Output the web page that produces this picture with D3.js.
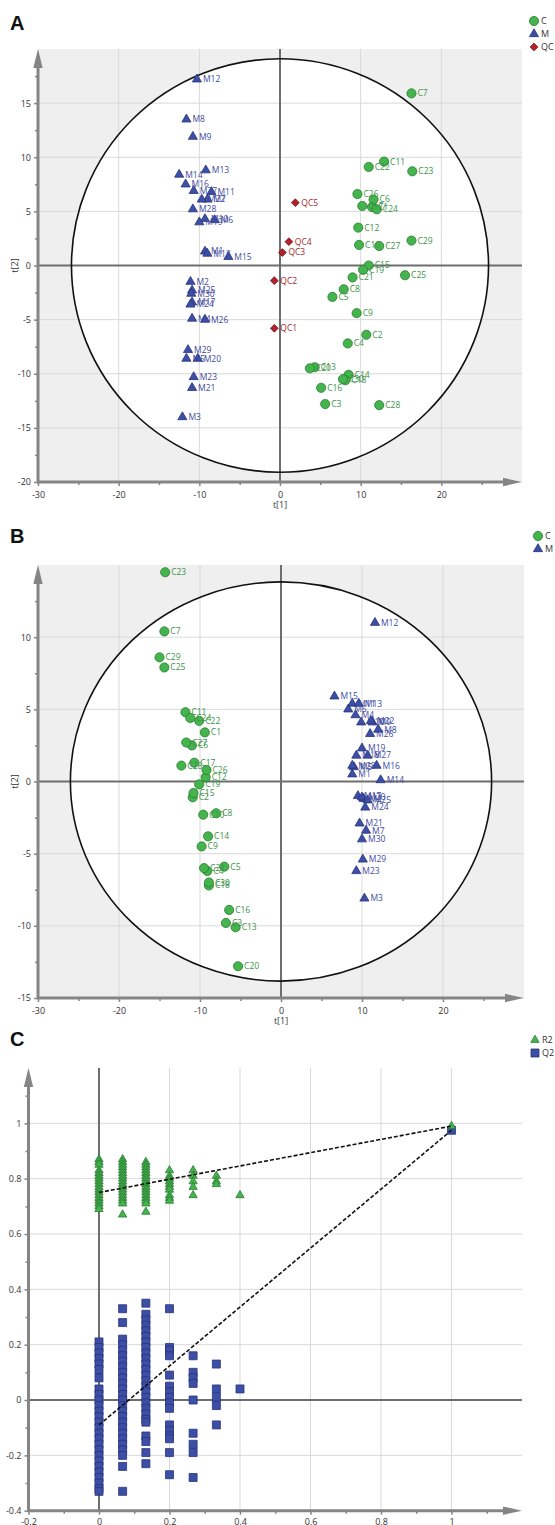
<!DOCTYPE html>
<html>
<head>
<meta charset="utf-8">
<script src="https://cdn.jsdelivr.net/npm/d3@7"></script>
<style>
  body { margin: 0; background: #fff; }
  svg { display: block; }
</style>
</head>
<body>
<div id="chart"></div>
<script>
// ---- panel A scores: [label, t1, t2]
const scoreA_C = [
  ["C1", 11.4, 5.4], ["C2", 10.7, -6.4], ["C3", 5.6, -12.8], ["C4", 8.4, -7.2], ["C5", 6.5, -2.9],
  ["C6", 11.6, 6.1], ["C7", 16.3, 15.9], ["C8", 7.9, -2.2], ["C9", 9.5, -4.4], ["C10", 9.8, 1.9],
  ["C11", 12.9, 9.6], ["C12", 9.7, 3.5], ["C13", 4.3, -9.4], ["C14", 8.5, -10.1], ["C15", 11.0, 0.0],
  ["C16", 5.1, -11.3], ["C17", 10.2, 5.5], ["C18", 8.1, -10.6], ["C19", 10.3, -0.4], ["C20", 3.7, -9.5],
  ["C21", 9.0, -1.1], ["C22", 11.0, 9.1], ["C23", 16.4, 8.7], ["C24", 12.0, 5.2], ["C25", 15.5, -0.9],
  ["C26", 9.6, 6.6], ["C27", 12.3, 1.8], ["C28", 12.3, -12.9], ["C29", 16.3, 2.3], ["C30", 7.8, -10.5]
];
const scoreA_M = [
  ["M1", -9.3, 1.3], ["M2", -11.1, -1.5], ["M3", -12.1, -14.0], ["M4", -10.9, -4.9], ["M5", -11.6, -8.6],
  ["M6", -8.1, 4.2], ["M7", -9.0, 6.1], ["M8", -11.6, 13.5], ["M9", -10.8, 11.9], ["M10", -9.3, 4.3],
  ["M11", -8.5, 6.8], ["M12", -10.3, 17.2], ["M13", -9.2, 8.8], ["M14", -12.5, 8.4], ["M15", -6.4, 0.8],
  ["M16", -11.7, 7.5], ["M17", -10.9, -3.4], ["M18", -9.0, 1.1], ["M19", -10.0, 4.0], ["M20", -10.2, -8.6],
  ["M21", -10.9, -11.3], ["M22", -9.7, 6.1], ["M23", -10.7, -10.3], ["M24", -11.1, -3.6], ["M25", -10.9, -2.3],
  ["M26", -9.3, -5.0], ["M27", -10.7, 6.9], ["M28", -10.8, 5.2], ["M29", -11.4, -7.8], ["M30", -11.0, -2.6]
];
const scoreA_QC = [
  ["QC1", -0.7, -5.8], ["QC2", -0.7, -1.4], ["QC3", 0.3, 1.2], ["QC4", 1.1, 2.2], ["QC5", 1.9, 5.8]
];

// ---- panel B scores
const scoreB_C = [
  ["C1", -9.4, 3.4], ["C2", -10.9, -1.1], ["C3", -6.8, -9.8], ["C4", -9.1, -6.2], ["C5", -7.0, -5.9],
  ["C6", -11.0, 2.5], ["C7", -14.4, 10.4], ["C8", -8.0, -2.2], ["C9", -9.8, -4.5], ["C10", -9.6, -2.3],
  ["C11", -11.8, 4.8], ["C12", -9.3, 0.3], ["C13", -5.6, -10.1], ["C14", -9.0, -3.8], ["C15", -10.8, -0.8],
  ["C16", -6.4, -8.9], ["C17", -10.7, 1.3], ["C18", -8.9, -7.2], ["C19", -10.1, -0.2], ["C20", -5.3, -12.8],
  ["C21", -9.5, -6.0], ["C22", -10.1, 4.2], ["C23", -14.3, 14.5], ["C24", -11.2, 4.4], ["C25", -14.4, 7.9],
  ["C26", -9.2, 0.8], ["C27", -11.7, 2.7], ["C28", -12.3, 1.1], ["C29", -15.0, 8.6], ["C30", -8.9, -7.0]
];
const scoreB_M = [
  ["M1", 8.8, 0.5], ["M2", 10.2, -1.2], ["M3", 10.3, -8.1], ["M4", 9.2, 4.6], ["M5", 9.0, 1.0],
  ["M6", 8.3, 5.0], ["M7", 10.5, -3.4], ["M8", 12.0, 3.6], ["M9", 11.3, 4.1], ["M10", 9.9, 4.1],
  ["M11", 8.8, 5.4], ["M12", 11.6, 11.0], ["M13", 9.6, 5.4], ["M14", 12.3, 0.1], ["M15", 6.6, 5.9],
  ["M16", 11.8, 1.1], ["M17", 9.5, -1.0], ["M18", 9.3, 1.8], ["M19", 10.0, 2.3], ["M20", 10.0, -1.1],
  ["M21", 9.7, -2.9], ["M22", 11.1, 4.2], ["M23", 9.3, -6.2], ["M24", 10.4, -1.8], ["M25", 10.7, -1.3],
  ["M26", 11.0, 3.3], ["M27", 10.7, 1.8], ["M28", 8.8, 1.1], ["M29", 10.1, -5.4], ["M30", 10.0, -4.0]
];

// ---- panel C permutation test
const permCorr = [0, 0.067, 0.133, 0.2, 0.267, 0.333, 0.4, 1];
const r2ByCol = [
  [0.87, 0.86, 0.85, 0.83, 0.82, 0.81, 0.80, 0.79, 0.78, 0.77, 0.76, 0.75, 0.74, 0.73, 0.72, 0.71, 0.70, 0.69],
  [0.87, 0.86, 0.85, 0.84, 0.83, 0.82, 0.81, 0.80, 0.79, 0.78, 0.77, 0.76, 0.75, 0.74, 0.73, 0.72, 0.71, 0.67],
  [0.86, 0.85, 0.84, 0.83, 0.82, 0.81, 0.80, 0.79, 0.78, 0.77, 0.76, 0.75, 0.74, 0.73, 0.72, 0.71, 0.68],
  [0.83, 0.81, 0.80, 0.79, 0.78, 0.77, 0.76, 0.74, 0.73, 0.72],
  [0.83, 0.81, 0.79, 0.77, 0.74],
  [0.81, 0.79, 0.78],
  [0.74],
  [0.99]
];
const q2ByCol = [
  [0.21, 0.19, 0.17, 0.15, 0.13, 0.11, 0.08, 0.04, 0.02, 0.0, -0.02, -0.04, -0.06, -0.08, -0.10, -0.12,
   -0.14, -0.16, -0.18, -0.20, -0.22, -0.24, -0.26, -0.28, -0.30, -0.32, -0.33],
  [0.33, 0.28, 0.22, 0.20, 0.18, 0.16, 0.14, 0.12, 0.10, 0.08, 0.06, 0.04, 0.02, 0.0, -0.02, -0.04,
   -0.06, -0.08, -0.10, -0.12, -0.14, -0.16, -0.18, -0.20, -0.24, -0.33],
  [0.35, 0.31, 0.29, 0.27, 0.25, 0.23, 0.21, 0.19, 0.17, 0.15, 0.13, 0.11, 0.09, 0.07, 0.05, 0.03,
   0.01, -0.01, -0.03, -0.05, -0.07, -0.08, -0.13, -0.15, -0.19, -0.23],
  [0.33, 0.19, 0.18, 0.16, 0.09, 0.05, 0.03, 0.01, -0.01, -0.03, -0.09, -0.11, -0.13, -0.14, -0.19, -0.27],
  [0.16, 0.10, 0.08, 0.06, 0.0, -0.12, -0.16, -0.19, -0.28],
  [0.13, 0.04, 0.01, -0.02, -0.09],
  [0.04],
  [0.975]
];
const r2Line = [[0, 0.75], [1, 0.99]];
const q2Line = [[0, -0.09], [1, 0.975]];

const GREEN = "#43b54c", GREEN_D = "#2b7a33", GREEN_T = "#3c9447";
const BLUE = "#3d4ea6", BLUE_D = "#27337a", BLUE_T = "#3e4a9e";
const RED = "#b3222b", RED_D = "#7d1419", RED_T = "#a12a2c";
const AXIS = "#858585", ZERO = "#6e6e6e", GRID = "#d9d9d9";

const svg = d3.select("#chart").append("svg")
  .attr("width", 555).attr("height", 1525)
  .style("font-family", "'Open Sans', sans-serif");

const shapes = {
  circle: d3.symbol(d3.symbolCircle, 66),
  triangle: d3.symbol(d3.symbolTriangle, 36),
  diamond: d3.symbol(d3.symbolSquare, 30),
  square: d3.symbol(d3.symbolSquare, 64),
  triSmall: d3.symbol(d3.symbolTriangle, 30)
};

function drawMarker(sel, shape, fill, stroke) {
  sel.attr("d", shapes[shape]())
    .attr("fill", fill).attr("stroke", stroke).attr("stroke-width", 0.8);
}

// axes with thick line + arrowheads, outward ticks
function drawFrame(g, x, y, opt) {
  const [x0, x1] = x.range();
  const [yb, yt] = y.range();

  g.append("g").attr("transform", `translate(${x0},0)`)
    .call(d3.axisLeft(y).tickValues(opt.yMajor).tickSize(4).tickPadding(3).tickFormat(d => String(d)))
    .call(a => a.select(".domain").remove())
    .call(a => a.selectAll("line").attr("stroke", AXIS).attr("stroke-width", 1.5))
    .call(a => a.selectAll("text").attr("fill", "#333").style("font-size", "9px").style("font-family", "'Open Sans', sans-serif"));
  g.append("g").attr("transform", `translate(${x0},0)`)
    .call(d3.axisLeft(y).tickValues(opt.yMinor).tickSize(3).tickFormat(""))
    .call(a => a.select(".domain").remove())
    .call(a => a.selectAll("line").attr("stroke", AXIS).attr("stroke-width", 1.5));

  g.append("g").attr("transform", `translate(0,${yb})`)
    .call(d3.axisBottom(x).tickValues(opt.xMajor).tickSize(4).tickPadding(opt.xPad || 5).tickFormat(d => String(d)))
    .call(a => a.select(".domain").remove())
    .call(a => a.selectAll("line").attr("stroke", AXIS).attr("stroke-width", 1.5))
    .call(a => a.selectAll("text").attr("fill", "#333").style("font-size", "9px").style("font-family", "'Open Sans', sans-serif"));
  g.append("g").attr("transform", `translate(0,${yb})`)
    .call(d3.axisBottom(x).tickValues(opt.xMinor).tickSize(3).tickFormat(""))
    .call(a => a.select(".domain").remove())
    .call(a => a.selectAll("line").attr("stroke", AXIS).attr("stroke-width", 1.5));

  // thick axis lines
  g.append("line").attr("x1", x0).attr("x2", x0).attr("y1", yb + 1).attr("y2", yt + 10)
    .attr("stroke", AXIS).attr("stroke-width", 3);
  g.append("line").attr("x1", x0 - 1).attr("x2", x1 - 10).attr("y1", yb).attr("y2", yb)
    .attr("stroke", AXIS).attr("stroke-width", 3);
  // arrowheads
  g.append("path").attr("d", `M${x0},${yt} L${x0 + 4.7},${yt + 19} L${x0 - 4.7},${yt + 19} Z`).attr("fill", AXIS);
  g.append("path").attr("d", `M${x1},${yb} L${x1 - 19},${yb - 4.2} L${x1 - 19},${yb + 4.2} Z`).attr("fill", AXIS);
}

function gridLines(g, x, y, xs, ys) {
  const [x0, x1] = x.range();
  const [yb, yt] = y.range();
  g.selectAll(null).data(xs).join("line")
    .attr("x1", d => x(d)).attr("x2", d => x(d)).attr("y1", yt).attr("y2", yb)
    .attr("stroke", GRID).attr("stroke-width", 1);
  g.selectAll(null).data(ys).join("line")
    .attr("x1", x0).attr("x2", x1).attr("y1", d => y(d)).attr("y2", d => y(d))
    .attr("stroke", GRID).attr("stroke-width", 1);
}

function zeroLines(g, x, y) {
  const [x0, x1] = x.range();
  const [yb, yt] = y.range();
  g.append("line").attr("x1", x(0)).attr("x2", x(0)).attr("y1", yt).attr("y2", yb)
    .attr("stroke", ZERO).attr("stroke-width", 2);
  g.append("line").attr("x1", x0).attr("x2", x1).attr("y1", y(0)).attr("y2", y(0))
    .attr("stroke", ZERO).attr("stroke-width", 2);
}

function legend(g, lx, ly, items) {
  items.forEach((it, i) => {
    g.append("path").attr("transform", `translate(${lx},${ly + i * 13}) rotate(${it.rot || 0})`)
      .call(s => drawMarker(s, it.shape, it.fill, it.stroke));
    g.append("text").attr("x", lx + 7).attr("y", ly + i * 13).attr("dy", "0.35em")
      .attr("fill", "#333").style("font-size", "9px").text(it.label);
  });
}

function scorePlot(cfg) {
  const g = svg.append("g");
  const x = d3.scaleLinear().domain([-30, 30]).range(cfg.xRange);
  const y = d3.scaleLinear().domain(cfg.yDomain).range(cfg.yRange);
  const [x0, x1] = x.range();
  const [yb, yt] = y.range();

  g.append("rect").attr("x", x0).attr("y", yt).attr("width", x1 - x0).attr("height", yb - yt).attr("fill", "#efefef");
  const cx = x(0), cy = y(0);
  const rxp = x(cfg.rx) - x(0), ryp = y(0) - y(cfg.ry);
  g.append("ellipse").attr("cx", cx).attr("cy", cy).attr("rx", rxp).attr("ry", ryp).attr("fill", "#fff");

  gridLines(g, x, y, [-20, -10, 10, 20], cfg.yGrid);
  zeroLines(g, x, y);
  g.append("ellipse").attr("cx", cx).attr("cy", cy).attr("rx", rxp).attr("ry", ryp)
    .attr("fill", "none").attr("stroke", "#111").attr("stroke-width", 1.6);

  drawFrame(g, x, y, {
    xMajor: [-30, -20, -10, 0, 10, 20], xMinor: [-25, -15, -5, 5, 15, 25],
    yMajor: cfg.yMajor, yMinor: cfg.yMinor, xPad: 6
  });

  g.append("text").attr("x", x(0)).attr("y", yb + 26).attr("text-anchor", "middle")
    .attr("fill", "#333").style("font-size", "9px").text("t[1]");
  g.append("text").attr("transform", `translate(15,${y(0)}) rotate(-90)`).attr("text-anchor", "middle")
    .attr("dy", "0.35em").attr("fill", "#333").style("font-size", "9px").text("t[2]");

  cfg.groups.forEach(grp => {
    const pg = g.append("g");
    pg.selectAll("path").data(grp.data).join("path")
      .attr("transform", d => `translate(${x(d[1])},${y(d[2])}) rotate(${grp.rot || 0})`)
      .call(s => drawMarker(s, grp.shape, grp.fill, grp.stroke));
    pg.selectAll("text").data(grp.data).join("text")
      .attr("x", d => x(d[1]) + 6).attr("y", d => y(d[2])).attr("dy", "0.35em")
      .attr("fill", grp.text).style("font-size", "8.5px").text(d => d[0]);
  });

  g.append("text").attr("x", 10).attr("y", cfg.letterY).attr("fill", "#111")
    .style("font-size", "20px").style("font-weight", "bold").style("font-family", "'Liberation Sans', Arial, sans-serif")
    .text(cfg.letter);
  legend(g, cfg.legendX, cfg.legendY, cfg.legend);
}

const cItem = { shape: "circle", fill: GREEN, stroke: GREEN_D, label: "C" };
const mItem = { shape: "triangle", fill: BLUE, stroke: BLUE_D, label: "M" };
const qItem = { shape: "diamond", fill: RED, stroke: RED_D, label: "QC", rot: 45 };

scorePlot({
  letter: "A", letterY: 30,
  xRange: [38, 522], yDomain: [-20, 20], yRange: [482, 49],
  rx: 25.85, ry: 19.1,
  yGrid: [-15, -10, -5, 5, 10, 15],
  yMajor: [-20, -15, -10, -5, 0, 5, 10, 15],
  yMinor: [-17.5, -12.5, -7.5, -2.5, 2.5, 7.5, 12.5, 17.5],
  groups: [
    { data: scoreA_M, shape: "triangle", fill: BLUE, stroke: BLUE_D, text: BLUE_T },
    { data: scoreA_QC, shape: "diamond", fill: RED, stroke: RED_D, text: RED_T, rot: 45 },
    { data: scoreA_C, shape: "circle", fill: GREEN, stroke: GREEN_D, text: GREEN_T }
  ],
  legendX: 534, legendY: 21, legend: [cItem, mItem, qItem]
});

scorePlot({
  letter: "B", letterY: 543,
  xRange: [38, 524], yDomain: [-15, 15], yRange: [998, 565],
  rx: 26.0, ry: 13.83,
  yGrid: [-10, -5, 5, 10],
  yMajor: [-15, -10, -5, 0, 5, 10],
  yMinor: [-12.5, -7.5, -2.5, 2.5, 7.5, 12.5],
  groups: [
    { data: scoreB_M, shape: "triangle", fill: BLUE, stroke: BLUE_D, text: BLUE_T },
    { data: scoreB_C, shape: "circle", fill: GREEN, stroke: GREEN_D, text: GREEN_T }
  ],
  legendX: 538, legendY: 536, legend: [cItem, mItem]
});

// ---- panel C
(function permPlot() {
  const g = svg.append("g");
  const x = d3.scaleLinear().domain([-0.2, 1.2]).range([28.5, 522]);
  const y = d3.scaleLinear().domain([-0.4, 1.2]).range([1510.7, 1068]);

  gridLines(g, x, y, [0.2, 0.4, 0.6, 0.8, 1], [-0.2, 0.2, 0.4, 0.6, 0.8, 1]);
  zeroLines(g, x, y);
  drawFrame(g, x, y, {
    xMajor: [-0.2, 0, 0.2, 0.4, 0.6, 0.8, 1], xMinor: [-0.1, 0.1, 0.3, 0.5, 0.7, 0.9, 1.1],
    yMajor: [-0.4, -0.2, 0, 0.2, 0.4, 0.6, 0.8, 1], yMinor: [-0.3, -0.1, 0.1, 0.3, 0.5, 0.7, 0.9, 1.1],
    xPad: 4
  });

  const r2Pts = permCorr.flatMap((c, i) => r2ByCol[i].map(v => [c, v]));
  const q2Pts = permCorr.flatMap((c, i) => q2ByCol[i].map(v => [c, v]));

  g.append("g").selectAll("path").data(q2Pts).join("path")
    .attr("transform", d => `translate(${x(d[0])},${y(d[1])})`)
    .call(s => drawMarker(s, "square", BLUE, BLUE_D));
  g.append("g").selectAll("path").data(r2Pts).join("path")
    .attr("transform", d => `translate(${x(d[0])},${y(d[1])})`)
    .call(s => drawMarker(s, "triSmall", GREEN, GREEN_D));

  const line = d3.line().x(d => x(d[0])).y(d => y(d[1]));
  [r2Line, q2Line].forEach(l => {
    g.append("path").attr("d", line(l)).attr("fill", "none")
      .attr("stroke", "#111").attr("stroke-width", 1.6).attr("stroke-dasharray", "4,2");
  });

  g.append("text").attr("x", 10).attr("y", 1046).attr("fill", "#111")
    .style("font-size", "20px").style("font-weight", "bold").style("font-family", "'Liberation Sans', Arial, sans-serif")
    .text("C");
  legend(g, 535, 1040, [
    { shape: "triSmall", fill: GREEN, stroke: GREEN_D, label: "R2" },
    { shape: "square", fill: BLUE, stroke: BLUE_D, label: "Q2" }
  ]);
})();
</script>
</body>
</html>
